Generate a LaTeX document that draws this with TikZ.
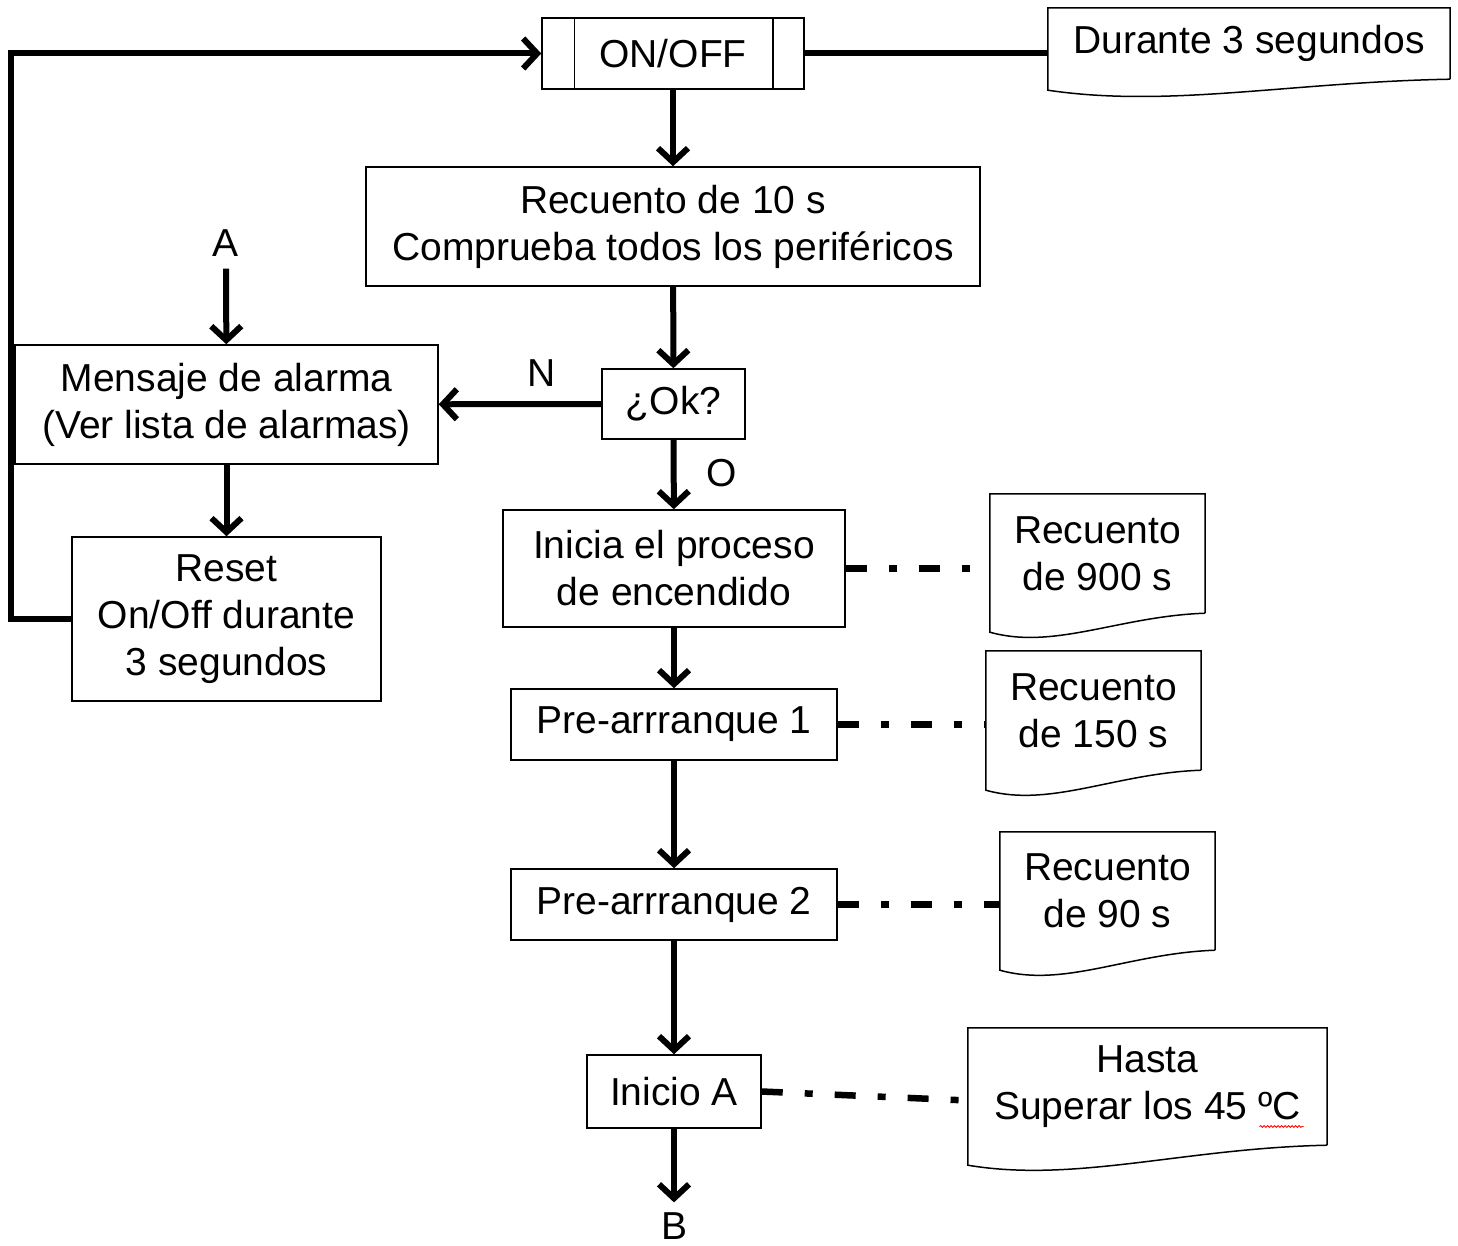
\documentclass[tikz,border=0pt]{standalone}
\usepackage{fontspec}
\setmainfont{Liberation Sans}
\usetikzlibrary{arrows.meta,calc,decorations.pathmorphing}
\newcommand\bigfs{\fontsize{39}{47}\selectfont}
\newcommand\docoutline[2]{%
  \path[draw, line width=1.5pt] let \p1=(#1.south west), \p2=(#1.south east), \n1={\x2-\x1} in
  (\p2) -- (#1.north east) -- (#1.north west) -- (\x1,\y1-#2pt)
  .. controls (\x1+0.3*\n1,\y1-#2pt-18pt) and (\x1+0.6*\n1,\y1-3pt) .. (\p2);}
\tikzset{
  box/.style={draw, line width=1.5pt, inner sep=0pt, align=center, font=\bigfs},
  docbox/.style={inner sep=0pt, align=center, font=\bigfs},
  lbl/.style={inner sep=12pt, font=\bigfs},
  conn/.style={line width=6pt, -{Straight Barb[length=14pt,width=30pt]}},
  thickline/.style={line width=6pt},
  dd/.style={line width=6.5pt, dash pattern=on 21pt off 22pt on 8pt off 22pt}
}
\begin{document}
\begin{tikzpicture}[x=1pt,y=-1pt]
\useasboundingbox (0,0) rectangle (1458,1246);
% main boxes
\node[box, minimum width=262pt, minimum height=71pt] (onoff) at (673,53.5) {ON/OFF};
\draw[line width=1.5pt] ([xshift=33pt]onoff.north west) -- ([xshift=33pt]onoff.south west);
\draw[line width=1.5pt] ([xshift=-32pt]onoff.north east) -- ([xshift=-32pt]onoff.south east);
\node[box, minimum width=614pt, minimum height=119pt] (recuento) at (673,226.5) {Recuento de 10 s\\Comprueba todos los periféricos};
\node[box, minimum width=143pt, minimum height=70pt] (ok) at (673.5,404) {¿Ok?};
\node[box, minimum width=423pt, minimum height=119pt] (mensaje) at (226.5,404.5) {Mensaje de alarma\\(Ver lista de alarmas)};
\node[box, minimum width=309pt, minimum height=164pt] (reset) at (226.5,619) {Reset\\On/Off durante\\3 segundos};
\node[box, minimum width=342pt, minimum height=117pt] (inicia) at (674,568.5) {Inicia el proceso\\de encendido};
\node[box, minimum width=326pt, minimum height=71pt] (pre1) at (674,724.5) {Pre-arrranque 1};
\node[box, minimum width=326pt, minimum height=71pt] (pre2) at (674,904.5) {Pre-arrranque 2};
\node[box, minimum width=174pt, minimum height=73pt] (inicioA) at (674,1091.5) {Inicio A};
% document shapes
\node[docbox, minimum width=402pt, minimum height=71pt] (durante) at (1249,43.5) {Durante 3 segundos};
\docoutline{durante}{11}
\node[docbox, minimum width=215pt, minimum height=119pt] (doc900) at (1097.5,553.5) {Recuento\\de 900 s};
\docoutline{doc900}{19}
\node[docbox, minimum width=215pt, minimum height=119pt] (doc150) at (1093.5,710.5) {Recuento\\de 150 s};
\docoutline{doc150}{20}
\node[docbox, minimum width=215pt, minimum height=118pt] (doc90) at (1107.5,891) {Recuento\\de 90 s};
\docoutline{doc90}{20}
\node[docbox, minimum width=359pt, minimum height=117pt] (hasta) at (1147.5,1086.5) {Hasta\\Superar los 45 ºC};
\docoutline{hasta}{20}
\draw[red, line width=0.8pt, decorate, decoration={snake, amplitude=1pt, segment length=3.5pt}] ($(hasta.center)+(112,40)$) -- ++(44,0);
% labels
\node[lbl] (A) at (226,243) {A};
\node[lbl] (B) at (674,1226) {B};
\node[font=\bigfs, inner sep=0pt] (N) at (542,373) {N};
\node[font=\bigfs, inner sep=0pt] (O) at (722,473) {O};
% connectors
\draw[thickline] (onoff.east) -- (onoff.east -| durante.west);
\draw[conn] (onoff) -- (recuento);
\draw[conn] (recuento) -- (ok);
\draw[conn] (ok) -- (mensaje);
\draw[conn] (A) -- (mensaje);
\draw[conn] (mensaje) -- (reset);
\draw[conn] (reset.west) -- ++(-60,0) |- (onoff.west);
\draw[conn] (ok) -- (inicia);
\draw[conn] (inicia) -- (pre1);
\draw[conn] (pre1) -- (pre2);
\draw[conn] (pre2) -- (inicioA);
\draw[conn] (inicioA) -- ([yshift=-2pt]B.north);
% dash-dot links
\draw[dd] (inicia.east) -- (inicia.east -| doc900.west);
\draw[dd] (pre1.east) -- (pre1.east -| doc150.west);
\draw[dd] (pre2.east) -- (pre2.east -| doc90.west);
\draw[dd] (inicioA.east) -- ([yshift=-14pt]hasta.west);
\end{tikzpicture}
\end{document}
